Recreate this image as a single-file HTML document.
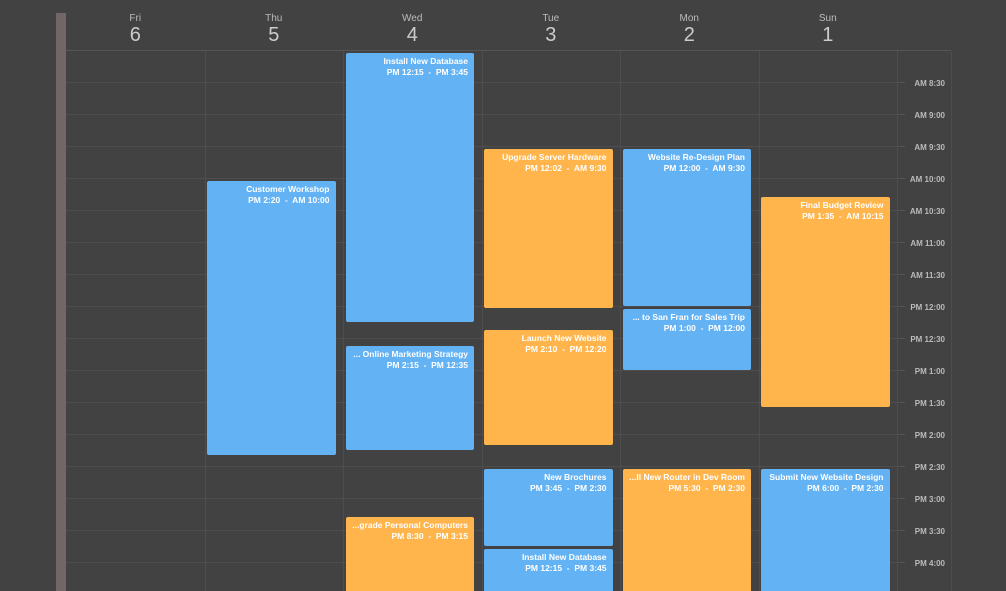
<!DOCTYPE html>
<html style="overflow:hidden;width:1006px;height:591px"><head><meta charset="utf-8"><style>
body{margin:0;width:1006px;height:591px;overflow:hidden;background:#424242;font-family:"Liberation Sans",sans-serif;position:relative}
.abs{position:absolute}
.hd{position:absolute;top:13px;text-align:center;color:#ccc}
.hd .d{font-size:10px;color:#bbb}
.hd .n{font-size:20px;line-height:22px;color:#ccc}
.ev{position:absolute;border-radius:2px;color:#fff;text-align:right;font-size:8.5px;font-weight:bold;padding:3px 6px 0 4px;box-sizing:border-box;overflow:hidden;white-space:nowrap;line-height:11px}
.tl{position:absolute;right:61px;font-size:8px;font-weight:bold;color:#bbb}
</style></head><body>
<div class="abs" style="left:56px;top:13px;width:10px;height:578px;background:#726666"></div>
<svg id="grid" class="abs" style="left:0;top:0" width="1006" height="591"></svg>
<div id="root"></div>
<script>
const days=["Fri","Thu","Wed","Tue","Mon","Sun"];
const dates=[6,5,4,3,2,1];
const slotLabels=["AM 8:30","AM 9:00","AM 9:30","AM 10:00","AM 10:30","AM 11:00","AM 11:30","PM 12:00","PM 12:30","PM 1:00","PM 1:30","PM 2:00","PM 2:30","PM 3:00","PM 3:30","PM 4:00"];
const evCols=[1,2,2,2,3,3,3,3,4,4,4,5,5];
const evStart=[10,8,12.583,15.25,9.5,12.333,14.5,15.75,9.5,12,14.5,10.25,14.5];
const evEnd=[14.333,12.25,14.25,20.5,12.033,14.167,15.75,19.75,12,13,17.5,13.583,18];
const evColor=["b","b","b","o","o","o","b","b","b","b","o","o","b"];
const evTitle=["Customer Workshop","Install New Database","... Online Marketing Strategy","...grade Personal Computers","Upgrade Server Hardware","Launch New Website","New Brochures","Install New Database","Website Re-Design Plan","... to San Fran for Sales Trip","...ll New Router in Dev Room","Final Budget Review","Submit New Website Design"];
const evTime=["PM 2:20  -  AM 10:00","PM 12:15  -  PM 3:45","PM 2:15  -  PM 12:35","PM 8:30  -  PM 3:15","PM 12:02  -  AM 9:30","PM 2:10  -  PM 12:20","PM 3:45  -  PM 2:30","PM 12:15  -  PM 3:45","PM 12:00  -  AM 9:30","PM 1:00  -  PM 12:00","PM 5:30  -  PM 2:30","PM 1:35  -  AM 10:15","PM 6:00  -  PM 2:30"];
const colX=c=>66+c*138.5;
const colW=138.5;
const yT=h=>50+64*(h-8);
const root=document.getElementById('root');
const g=document.getElementById('grid');
const NS="http://www.w3.org/2000/svg";
function line(x1,y1,x2,y2,c){const l=document.createElementNS(NS,'line');l.setAttribute('x1',x1);l.setAttribute('y1',y1);l.setAttribute('x2',x2);l.setAttribute('y2',y2);l.setAttribute('stroke',c);l.setAttribute('stroke-width',1);g.appendChild(l);return l;}
line(66,50.5,951,50.5,'#555');
for(let k=1;k<18;k++){const y=50.5+32*k;line(66,y,897,y,'#4d4d4d');line(897,y,905,y,'#555');}
for(let c=1;c<=6;c++){const x=Math.round(colX(c))+0.5;line(x,51,x,591,'#4d4d4d');}
line(951.5,51,951.5,591,'#4d4d4d');
days.forEach((d,i)=>{
 const h=document.createElement('div');h.className='hd';
 
 
 h.style.left=colX(i)+'px';h.style.width=colW+'px';
 h.innerHTML='<div class="d">'+d+'</div><div class="n">'+dates[i]+'</div>';
 root.appendChild(h);
});
slotLabels.forEach((s,i)=>{
 const t=document.createElement('div');t.className='tl';
 
 
 t.style.top=(79+32*i)+'px';t.textContent=s;root.appendChild(t);
});
evTitle.forEach((ti,i)=>{
 const e=document.createElement('div');e.className='ev';
 
 
 const top=yT(evStart[i])+3,bot=Math.min(yT(evEnd[i]),595);
 e.style.left=(colX(evCols[i])+2.5)+'px';e.style.width=(colW-10)+'px';
 e.style.top=top+'px';e.style.height=(bot-top)+'px';
 e.style.background=evColor[i]==='b'?'#63b2f4':'#ffb54c';
 e.innerHTML='<div>'+ti+'</div><div style="white-space:pre">'+evTime[i]+'</div>';
 root.appendChild(e);
});
</script>
</body></html>
